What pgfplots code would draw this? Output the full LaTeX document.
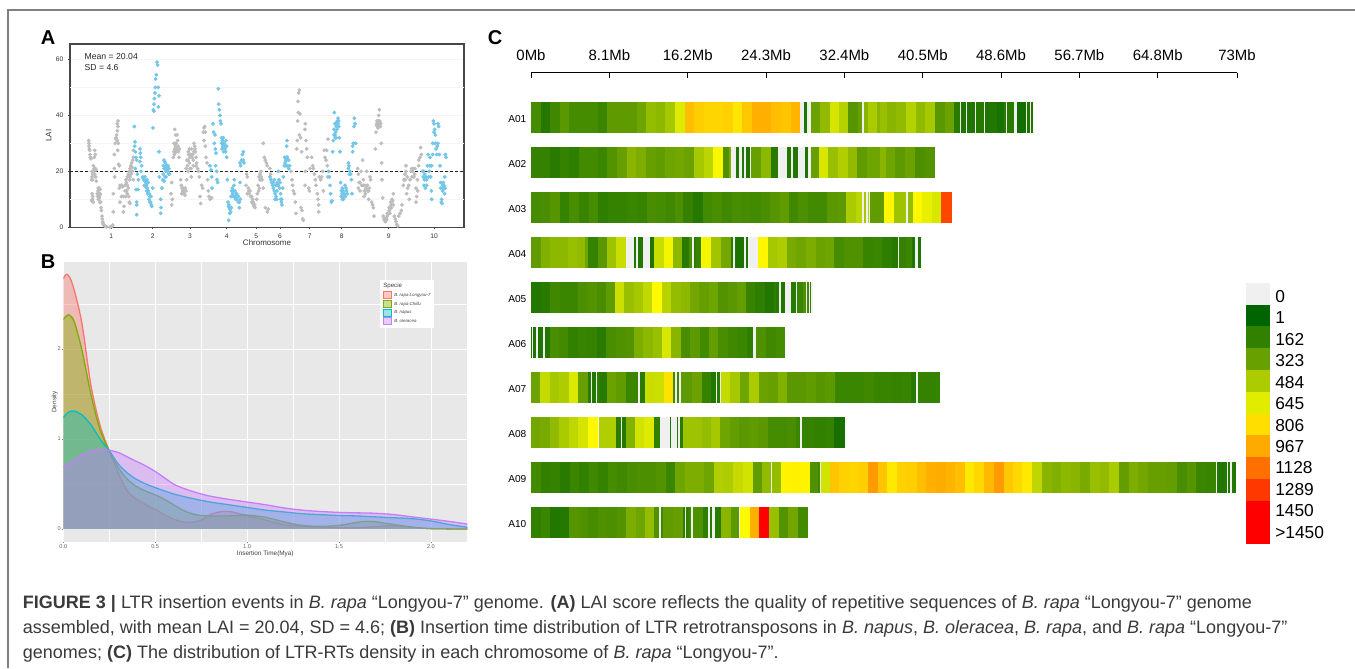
\documentclass[border=0pt]{standalone}
\usepackage{pgfplots}
\usepackage{pgfplotstable}
\usepackage{fontspec}
\setmainfont{Liberation Sans}
\pgfplotsset{compat=1.18}
\usepgfplotslibrary{patchplots}
\def\u{0.75pt}
\definecolor{gr}{HTML}{BDBDBD}
\definecolor{bl}{HTML}{72C6E8}
\definecolor{cred}{HTML}{F8766D}
\definecolor{cgrn}{HTML}{7CAE00}
\definecolor{ctea}{HTML}{00BFC4}
\definecolor{cpur}{HTML}{C77CFF}
\pgfplotsset{colormap={lai}{rgb255(0)=(240,240,240) rgb255(1)=(0,100,0) rgb255(162)=(50,128,0) rgb255(323)=(104,160,0) rgb255(484)=(172,204,0) rgb255(645)=(224,236,0) rgb255(700)=(255,250,0) rgb255(806)=(255,220,0) rgb255(967)=(255,170,0) rgb255(1128)=(255,112,0) rgb255(1289)=(255,56,0) rgb255(1450)=(255,0,0)}}

\pgfplotstableread[row sep=\\]{x v\\
93 220\\122 120\\151 200\\180 280\\208 220\\295 190\\322 295\\410 340\\438 430\\467 410\\496 470\\525 640\\554 900\\583 850\\612 830\\669 840\\698 770\\727 870\\756 950\\814 900\\843 880\\872 930\\900 0\\912 100\\920 0\\932 330\\960 420\\989 610\\1018 510\\1044 270\\1073 320\\1085 0\\1090 400\\1103 480\\1132 400\\1140 440\\1160 400\\1188 420\\1218 510\\1247 420\\1275 470\\1305 280\\1333 330\\1362 130\\1378 0\\1382 100\\1398 0\\1401 100\\1425 0\\1428 120\\1450 0\\1454 100\\1468 110\\1490 80\\1512 130\\1518 0\\1520 130\\1542 0\\1550 60\\1576 0\\1580 100\\1590 0\\1593 100\\1597 100\\
}\Aa
\pgfplotstableread[row sep=\\]{x v\\
93 170\\151 130\\180 170\\208 150\\237 210\\295 190\\322 260\\351 320\\380 400\\409 370\\438 320\\467 300\\496 340\\525 350\\553 330\\582 470\\611 530\\640 690\\668 250\\686 370\\692 0\\707 100\\716 0\\727 110\\733 0\\738 100\\750 0\\754 320\\783 410\\812 130\\835 0\\860 110\\874 0\\878 110\\895 0\\915 100\\925 0\\932 320\\956 620\\985 440\\1014 500\\1043 420\\1072 300\\1101 340\\1140 400\\1158 340\\1185 290\\1215 330\\1245 240\\1275 260\\1305 260\\
}\Ab
\pgfplotstableread[row sep=\\]{x v\\
93 220\\122 230\\151 270\\180 170\\208 230\\237 180\\266 220\\295 150\\324 170\\382 190\\411 180\\440 230\\468 220\\497 200\\526 240\\550 170\\580 120\\608 210\\637 230\\666 200\\695 230\\724 220\\753 210\\782 230\\810 270\\839 300\\866 200\\895 240\\924 210\\981 280\\1010 290\\1038 480\\1067 530\\1085 0\\1090 470\\1098 0\\1102 520\\1106 0\\1110 300\\1152 710\\1180 450\\1218 0\\1222 430\\1238 710\\1265 660\\1295 620\\1323 1250\\1355 1250\\
}\Ac
\pgfplotstableread[row sep=\\]{x v\\
93 300\\122 380\\151 410\\203 440\\232 420\\255 340\\265 170\\293 280\\320 450\\348 570\\377 0\\402 100\\407 0\\414 110\\428 0\\449 100\\462 570\\491 680\\519 410\\547 130\\567 230\\575 0\\581 150\\588 180\\604 680\\633 460\\662 350\\692 130\\698 0\\704 110\\708 90\\732 0\\737 100\\745 0\\775 710\\803 470\\832 490\\860 360\\889 340\\918 370\\947 330\\975 340\\1003 220\\1032 250\\1089 180\\1118 190\\1147 150\\1176 120\\1192 0\\1197 170\\1216 0\\1218 190\\1234 100\\1245 0\\1254 100\\1262 100\\
}\Ad
\pgfplotstableread[row sep=\\]{x v\\
93 110\\122 130\\151 200\\180 190\\233 240\\262 260\\291 230\\318 300\\345 580\\373 440\\402 470\\430 550\\457 700\\485 520\\514 430\\542 410\\570 350\\598 320\\626 340\\655 260\\683 280\\712 310\\738 180\\766 150\\795 110\\822 150\\828 130\\836 0\\844 100\\856 0\\873 130\\888 0\\892 190\\908 240\\917 0\\922 200\\927 0\\930 150\\934 0\\938 0\\
}\Ae
\pgfplotstableread[row sep=\\]{x v\\
93 100\\97 0\\100 100\\107 0\\113 100\\130 0\\136 110\\150 230\\178 210\\205 160\\233 180\\262 170\\291 130\\318 230\\347 250\\376 260\\402 370\\430 410\\458 440\\486 620\\514 400\\542 230\\571 290\\600 210\\627 310\\655 230\\684 200\\712 190\\740 150\\760 0\\767 250\\798 200\\827 220\\855 220\\
}\Af
\pgfplotstableread[row sep=\\]{x v\\
93 330\\120 560\\149 470\\178 490\\206 630\\235 320\\263 130\\272 0\\277 110\\288 0\\292 160\\297 130\\320 330\\347 300\\377 190\\414 0\\419 130\\435 570\\463 580\\491 780\\520 200\\525 0\\530 200\\538 0\\542 290\\576 330\\605 170\\634 110\\648 0\\652 130\\660 0\\663 560\\690 470\\719 340\\747 480\\776 330\\805 320\\834 380\\861 280\\919 300\\947 270\\976 290\\1004 190\\1091 200\\1120 180\\1176 170\\1205 180\\1233 130\\1248 0\\1254 170\\1320 170\\
}\Ag
\pgfplotstableread[row sep=\\]{x v\\
93 350\\120 360\\149 420\\178 480\\206 540\\235 610\\264 710\\293 0\\297 500\\348 140\\362 0\\366 120\\377 390\\405 600\\433 640\\461 160\\480 0\\510 110\\514 0\\530 130\\535 0\\540 130\\548 450\\605 430\\633 470\\661 340\\690 310\\718 280\\747 300\\775 280\\803 220\\861 230\\889 190\\901 0\\905 170\\945 160\\974 170\\1002 70\\1034 70\\
}\Ah
\pgfplotstableread[row sep=\\]{x v\\
93 210\\122 160\\151 170\\180 130\\209 190\\238 160\\267 200\\295 170\\324 220\\352 200\\381 230\\410 240\\468 260\\497 190\\525 340\\554 370\\613 340\\642 500\\670 490\\699 560\\728 600\\758 300\\786 420\\813 0\\816 430\\844 720\\873 730\\902 720\\931 250\\955 200\\960 0\\964 600\\989 880\\1018 840\\1047 830\\1076 850\\1105 1010\\1134 880\\1162 760\\1191 840\\1220 850\\1249 900\\1278 950\\1307 960\\1336 930\\1365 900\\1393 760\\1422 820\\1452 920\\1480 1010\\1510 870\\1538 820\\1566 760\\1596 540\\1625 400\\1654 380\\1682 410\\1711 400\\1740 360\\1769 440\\1798 420\\1827 480\\1856 310\\1885 370\\1914 350\\1942 320\\2000 310\\2030 230\\2059 270\\2088 190\\2117 180\\2146 0\\2150 110\\2180 0\\2184 120\\2190 0\\2194 120\\2200 0\\2202 100\\2207 100\\
}\Ai
\pgfplotstableread[row sep=\\]{x v\\
93 160\\122 190\\151 110\\180 120\\207 270\\236 250\\265 220\\294 250\\322 240\\351 260\\379 370\\408 340\\436 430\\463 250\\478 0\\484 200\\490 300\\520 320\\549 150\\555 0\\557 150\\566 200\\573 0\\578 250\\608 150\\624 0\\630 130\\636 0\\644 130\\664 400\\692 290\\716 0\\720 700\\749 950\\778 1450\\807 440\\836 260\\865 350\\893 210\\925 210\\
}\Aj
\newcommand\strip[2]{\addplot[mesh,shader=flat corner,line width=31*\u,line cap=butt,no marks,point meta=explicit]
  table[x expr=(\thisrow{x}-93)/29,y expr=-#1,meta=v]{#2};}

% density curves of panel B
\pgfplotstableread[row sep=\\]{x y\\
0 2.78\\.02 2.83\\.05 2.72\\.1 2.3\\.15 1.6\\.2 1.15\\.25 .87\\.3 .62\\.35 .42\\.4 .33\\.45 .27\\.5 .22\\.55 .16\\.6 .11\\.65 .08\\.7 .075\\.75 .1\\.8 .16\\.85 .19\\.9 .195\\.95 .175\\1 .15\\1.05 .125\\1.1 .1\\1.2 .05\\1.3 .03\\1.4 .02\\1.5 .015\\1.6 .015\\1.7 .025\\1.8 .04\\1.9 .02\\2 .005\\2.198 0\\
}\Bred
\pgfplotstableread[row sep=\\]{x y\\
0 2.33\\.03 2.38\\.06 2.3\\.1 2\\.15 1.5\\.2 1.1\\.25 .87\\.3 .68\\.35 .55\\.4 .47\\.45 .42\\.5 .38\\.55 .33\\.6 .27\\.65 .21\\.7 .17\\.75 .15\\.8 .145\\.9 .145\\1 .155\\1.1 .13\\1.2 .08\\1.3 .04\\1.4 .03\\1.5 .04\\1.6 .075\\1.65 .085\\1.7 .08\\1.8 .05\\1.9 .02\\2 .005\\2.198 0\\
}\Bgrn
\pgfplotstableread[row sep=\\]{x y\\
0 1.24\\.03 1.3\\.06 1.31\\.1 1.27\\.15 1.16\\.2 1\\.25 .87\\.3 .72\\.35 .62\\.4 .55\\.45 .5\\.5 .46\\.6 .39\\.7 .34\\.8 .3\\.9 .27\\1 .24\\1.1 .21\\1.2 .19\\1.3 .17\\1.4 .16\\1.5 .15\\1.6 .145\\1.7 .135\\1.8 .125\\1.9 .115\\2 .09\\2.1 .05\\2.198 .02\\
}\Btea
\pgfplotstableread[row sep=\\]{x y\\
0 .69\\.05 .75\\.1 .82\\.15 .865\\.2 .88\\.25 .875\\.3 .85\\.35 .8\\.4 .75\\.45 .7\\.5 .64\\.55 .57\\.6 .5\\.65 .455\\.7 .42\\.75 .39\\.8 .365\\.9 .33\\1 .3\\1.1 .27\\1.2 .235\\1.3 .21\\1.4 .195\\1.5 .185\\1.6 .18\\1.7 .175\\1.8 .16\\1.9 .135\\2 .11\\2.1 .085\\2.198 .055\\
}\Bpur
\newcommand\dens[2]{\addplot[draw=none,fill=#1,fill opacity=.4,smooth] table{#2} \closedcycle;
 \addplot[#1,line width=1.3*\u,smooth,no marks] table{#2};}

\begin{document}
\begin{tikzpicture}
\path[use as bounding box] (0,0) rectangle (1355*\u,-668*\u);

% Panel A
\begin{axis}[at={(70*\u,-227.3*\u)},anchor=south west,scale only axis,width=394*\u,height=183.3*\u,
 xmin=120,xmax=1302,ymin=0,ymax=65.5,
 xtick={244,368,480,590,679,750,839,935,1076,1212},xticklabels={1,2,3,4,5,6,7,8,9,10},
 ytick={0,20,40,60},
 grid=none,ymajorgrids,
 extra y ticks={10,30,50},extra y tick labels={},extra y tick style={major tick length=0pt},
 y grid style={black!4,line width=0.6pt},
 axis line style={black!72,line width=1.1*\u},
 tick style={black!70,line width=0.6pt},major tick length=2*\u,
 tick align=outside,xtick pos=bottom,ytick pos=left,
 tick label style={font=\fontsize{5}{6}\selectfont,text=black!80},
 /pgf/number format/assume math mode=true,
 xlabel={Chromosome},ylabel={LAI},
 label style={font=\fontsize{6}{7}\selectfont,text=black!80},
 xlabel style={at={(axis description cs:0.5,0)},anchor=north,yshift=-8*\u},
 ylabel style={at={(axis description cs:0,0.5)},anchor=south,yshift=14*\u},
]
\addplot[only marks,mark=*,mark size=1.65*\u,color=gr,mark options={draw=none,fill=gr}] coordinates {
(176,31)(177,30)(177,29)(178,28)(179,27.5)(180,26)(181,25)(183,24.5)(194,27.5)(196,26)(193,25)(190,22)(192,21)(195,21)(198,20.5)(186,20)(188,19)(185,17)(188,17)(197,18)(199,16.5)(186,12)(188,11)(187,10)(185,9.5)(190,9)(205,14)(208,14)(210,13.5)(204,13)(207,12)(210,11.5)(203,11)(208,10.5)(205,10)(212,9)(213,7)(214,6)(216,4)(217,3)(218,2)(219,1.5)(220,1)(222,.7)(224,.5)(226,.3)(230,.2)(248,.8)(245,.3)(240,.1)
(250,5.5)(250,12)(253,21)(253,26)(256,30)(258,32)(260,33)(262,34.5)(264,36)(262,37)(264,38)(258,31.5)(262,31)(265,30)(263,27.5)(266,22.5)(268,22)(254,18)
(270,15)(275,15)(268,14)(278,14.5)(274,11)(280,11)(270,9)(282,7.5)(280,5.5)(288,17)(285,15)(290,13)(292,12)(287,11)(296,11)(298,9)(300,8.5)(292,18)(295,19)(298,20)(300,21)(302,22)(305,23)(308,24)(310,25)(310,27.5)(306,21.5)(303,19)(310,17)
(425,16)(423,12)(427,10)(425,8)(430,25)(432,27)(434,28)(436,29)(438,30)(434,35)(437,33)(441,33)(443,31)(440,28)(445,27)(447,25)(452,17)(454,15)(456,14)(458,13)(460,12.5)(462,12)(465,11.5)(468,13)(470,17)(472,22)(474,24)(476,26)(478,23)(480,25)(483,21)(485,28)(488,26)(490,24)(492,30)(494,29)(496,27)(498,25)(500,23)(503,21)(505,20)(508,18)(510,11)(512,8.5)(515,15)(518,14)(520,34)(522,35.5)(524,36)(526,34)(522,31)(526,29)(528,25)(531,23)(533,17)(535,13)(537,11)(540,10)(545,10.5)
(648,15)(650,19)(652,18)(655,14)(657,12)(660,13)(662,11)(665,9)(668,8.5)(670,9)(672,8)(675,7)(680,10)(684,15)(687,18)(690,19)(693,20)(696,17)(700,30)(703,25)(706,24)(709,23)(712,22)(700,14)(706,7)(712,5.5)(715,6.5)(720,21)(722,19)
(783,20)(786,17)(788,15)(790,13)(793,12)(796,9)(798,5)(800,28)(802,31)(803,38)(805,41)(804,45)(806,48)(808,49)(810,40.5)(808,33)(812,32)(815,27)(813,7)(816,6)(818,3)(820,2.5)(825,35)(826,37)(828,31)(830,28)(832,25)(826,20)(825,15)(836,14)(838,13)(840,21)(845,25)(848,22)(850,21)(853,19)(856,17)(858,15)(862,12)(864,10)(866,8)(866,5.5)(868,18)(872,17)(875,18)(878,20)(880,13)(883,27.5)(885,25)(888,24)(890,27.5)(892,22)(894,31.5)(893,18)
(983,21)(985,19)(987,16)(990,13)(993,20)(995,15)(998,24)(1000,15)(1003,13)(1006,12)(1010,20)(1013,13)(1016,10)(1020,18)(1022,17)(1025,9)(1028,8)(1030,7)(1032,4)(1036,28)(1038,34)(1040,37)(1042,36)(1044,38)(1046,40)(1048,42)(1050,37.5)(1052,37)(1054,30)(1056,17)(1058,10.5)(1055,23)(1060,4)(1062,3)(1064,2.5)(1066,2)(1070,3)(1072,4)(1075,5)(1078,6)(1080,7)(1083,8)(1085,9)(1088,9.5)(1090,12)(1093,4)(1096,3)(1098,2)(1100,1)(1103,.5)(1106,4)(1110,5)(1114,6)(1116,8)(1120,15)(1122,17)(1125,19)(1128,22)(1130,12)(1133,14)(1136,15)(1138,10)(1143,20)(1146,18)(1150,21)(1154,19)(1158,9)(1160,11)(1163,13)(1166,22)(1170,25)(1172,28.5)(1174,26)
(1040,36.5)(1043,37)(1045,36)(1047,37)(1049,38)(1051,36)(1041,38)(1044,35.5)(1064,3)(1067,3)(1069,2.5)(1072,5)(1077,7)(1082,9)(1086,10)(1090,8)(1084,7)(1080,5)(210,12)(206,11)(202,12)(209,9)(196,21)(194,19)(191,20)(186,18)(300,18)(304,20)(307,20)(299,17)(292,15)(295,14)(289,16)(285,13)(468,21)(471,24)(475,27)(478,28)(482,26)(486,25)(490,22)(495,28)(492,27)(498,22)(474,20)(480,21)(484,18)(436,27)(440,27)(444,29)(432,30)(448,28)(455,12)(459,14)(463,13)(466,14)(433,26)(652,12)(656,13)(665,11)(668,10)(671,7.5)(674,8)(690,17)(694,18)(686,13)(688,14)(682,12)(1000,17)(1005,15)(1008,14)(1012,15)(1016,13)(1018,14)(1002,11)(990,16)(985,14)(1125,17)(1128,20)(1132,18)(1140,17)(1145,21)(1148,20)(1152,18)(1155,21)(1158,14)(1162,17)(1166,24)
};
\addplot[only marks,mark=*,mark size=1.65*\u,color=bl,mark options={draw=none,fill=bl}] coordinates {
(313,36)(315,30.5)(314,29)(316,27)(318,25)(320,24)(316,21)(322,19)(325,17)(318,13.5)(324,13.5)(320,9)(320,8)(320,4.5)(330,28)(331,26.5)(332,25)(330,23.5)(335,22)(333,20)(338,18)(340,17.5)(342,17)(345,16.5)(348,16)(350,15.5)(343,15)(347,14.5)(352,14)(355,13)(358,12)(360,11)(362,9)(364,8)(365,7.5)(368,14)(370,42)(372,44)(375,48)(373,46)(376,50)(377,53)(379,54.5)(381,59)(383,58)(385,50)(387,47)(385,43)(372,41.5)(369,35.5)(387,27)(388,18)(392,10)(393,7)(392,5)(396,14)(398,17)(400,22)(402,24)(404,23.5)(406,23)(408,22)(410,21)(412,20.5)(414,20)(416,19)(418,19)(405,18)(408,18)(403,16.5)
(540,22)(543,20.5)(545,18)(546,14)(549,37)(551,34)(553,30)(556,28)(558,26.5)(555,33)(557,22)(560,20)(561,17)(563,16)(565,49.5)(566,44)(568,42)(570,40)(571,38)(573,37)(575,32)(577,31)(580,30)(582,29)(585,28)(587,27)(590,25)(592,17)(594,9)(596,7.5)(598,7)(600,6.5)(602,5.5)(596,2.5)(605,13)(608,12)(610,11)(612,15)(615,13)(618,12)(620,10)(622,11)(625,9)(628,7)(630,23)(632,22)(635,24)(637,26)(640,27)(640,24)(642,23)(613,17)(630,16)
(720,18)(723,17)(725,16)(728,15)(730,14)(733,13)(735,10)(738,11)(740,15)(742,16)(745,20)(747,17)(750,16)(752,10)(754,9)(756,8)(758,14)(760,18)(763,22)(765,23)(767,24)(769,25)(770,29)(771,31)(773,22)(776,24)(779,22)
(896,20)(898,18)(900,15)(902,12)(904,9)(906,9.5)(908,27)(910,31)(912,35)(913,41)(915,33)(917,34)(918,37)(920,37.5)(922,38)(924,39)(926,36)(928,32)(930,27)(932,16)(934,13)(936,12)(938,11)(940,10)(945,15)(948,14)(950,13)(952,12)(955,23)(957,22)(960,20)(962,19)(964,17)(966,12)(968,27)(970,30)(972,36)(973,39)(975,37)(977,30)(968,29)
(1178,20)(1180,18)(1183,17)(1186,14)(1190,15)(1192,22)(1194,26)(1198,20)(1202,18)(1204,13)(1205,10)(1208,30)(1210,38)(1212,37)(1214,35)(1216,33)(1218,28)(1222,29)(1224,37)(1226,36)(1224,30)(1228,26)(1230,22)(1232,14)(1234,9)(1236,8.5)(1238,13)(1240,16)(1242,15)(1244,12)(1246,26)(1248,25)(1244,18)
(575,30)(578,29)(580,32)(583,30)(586,29)(588,31)(581,27)(576,28)(590,29)(603,11)(607,14)(610,13)(614,11)(617,10)(620,12)(625,11)(628,9)(631,10)(604,7)(597,8)(599,5)(345,18)(348,15)(351,17)(354,16)(350,13)(353,12)(357,10)(360,9)(363,11)(402,21)(405,21)(408,20)(411,22)(414,22)(417,21)(400,19)(915,37)(919,36)(921,35)(924,37)(926,38)(916,32)(912,33)(918,32)(937,14)(940,13)(943,12)(946,11)(934,11)(937,10)(955,21)(958,19)(730,16)(733,17)(737,15)(741,13)(745,15)(749,14)(752,12)(755,10)(735,12)(740,10)(764,25)(768,22)(772,25)(776,21)(770,24)(1180,20)(1184,19)(1188,18)(1190,17)(1182,15)(1196,18)(1200,22)(1235,10)(1238,15)(1241,14)(1232,16)(1245,14)(1212,34)(1216,30)(1220,26)(1208,26)(1205,22)(1200,25)
};
\addplot[black!85,line width=1.3*\u,dash pattern=on 3*\u off 2*\u] coordinates {(120,20.04)(1302,20.04)};
\node[anchor=north west,align=left,font=\fontsize{6.5}{8}\selectfont,text=black!85,inner sep=0pt] at (axis cs:163,62.2) {Mean = 20.04\\SD = 4.6};
\end{axis}

% Panel B
\begin{axis}[at={(63.3*\u,-541.7*\u)},anchor=south west,scale only axis,width=404*\u,height=279.4*\u,
 xmin=0,xmax=2.198,ymin=-0.1407,ymax=2.963,
 axis background/.style={fill=black!9},
 axis line style={draw=none},
 xtick={0,0.5,1,1.5,2},ytick={0,1,2},
 xticklabels={0.0,0.5,1.0,1.5,2.0},
 minor xtick={0.25,0.75,1.25,1.75},minor ytick={0.5,1.5,2.5},
 grid=both,major grid style={white,line width=0.8*\u},minor grid style={white,line width=0.4*\u},
 tick style={black!50,line width=0.4pt},major tick length=1.5*\u,minor tick length=0pt,
 tick align=outside,xtick pos=bottom,ytick pos=left,
 tick label style={font=\fontsize{4.2}{5}\selectfont,text=black!60,inner sep=0.6pt},
 /pgf/number format/assume math mode=true,
 xlabel={Insertion Time(Mya)},ylabel={Density},
 label style={font=\fontsize{4.8}{6}\selectfont,text=black!75},
 xlabel style={at={(axis description cs:0.5,0)},anchor=north,yshift=-4*\u},
 ylabel style={at={(axis description cs:0,0.5)},anchor=south,yshift=1*\u},
]
\dens{cred}{\Bred}
\dens{cgrn}{\Bgrn}
\dens{ctea}{\Btea}
\dens{cpur}{\Bpur}
\end{axis}
% legend of B
\fill[white] (380*\u,-280*\u) rectangle (434*\u,-328*\u);
\node[anchor=west,font=\fontsize{4.6}{5}\selectfont,text=black!75,inner sep=0pt] at (383*\u,-285.5*\u) {Specie};
\foreach \yy/\cc/\lab in {295/cred/B. rapa Longyou-7,304/cgrn/B. rapa Chiifu,312.5/ctea/B. napus,321/cpur/B. oleracea}{
  \fill[\cc,fill opacity=.4] (383.5*\u,-\yy*\u+3.5*\u) rectangle (391*\u,-\yy*\u-3.5*\u);
  \draw[\cc,line width=1*\u] (383.5*\u,-\yy*\u+3.5*\u) rectangle (391*\u,-\yy*\u-3.5*\u);
  \node[anchor=west,font=\fontsize{3.3}{5}\selectfont\itshape,text=black!75,inner sep=0pt] at (394*\u,-\yy*\u) {\lab};
}

% Panel C
\begin{axis}[at={(531*\u,-550*\u)},anchor=south west,scale only axis,width=706*\u,height=477.3*\u,
 xmin=0,xmax=73,ymin=-10.6,ymax=0,
 axis x line=top,axis y line=left,
 y axis line style={draw=none},
 x axis line style={-,black,line width=1*\u},
 xtick={0,8.1,16.2,24.3,32.4,40.5,48.6,56.7,64.8,73},
 xticklabels={0Mb,8.1Mb,16.2Mb,24.3Mb,32.4Mb,40.5Mb,48.6Mb,56.7Mb,64.8Mb,73Mb},
 ytick={-1,-2,-3,-4,-5,-6,-7,-8,-9,-10},
 yticklabels={A01,A02,A03,A04,A05,A06,A07,A08,A09,A10},
 tick align=inside,
 xtick style={black,line width=1*\u},
 ytick style={draw=none},
 x tick label style={font=\fontsize{11.2}{13}\selectfont,yshift=7*\u},
 y tick label style={font=\fontsize{7.6}{9}\selectfont,yshift=-1*\u},
 major tick length=5*\u,
 colormap name=lai,point meta min=0,point meta max=1450,
 clip=false,
]
\strip{1}{\Aa}
\strip{2}{\Ab}
\strip{3}{\Ac}
\strip{4}{\Ad}
\strip{5}{\Ae}
\strip{6}{\Af}
\strip{7}{\Ag}
\strip{8}{\Ah}
\strip{9}{\Ai}
\strip{10}{\Aj}
\end{axis}

% Colour key of C
\begin{axis}[at={(1245.7*\u,-544.3*\u)},anchor=south west,scale only axis,width=24.3*\u,height=261.6*\u,
 xmin=0,xmax=1,ymin=0,ymax=12,
 axis line style={draw=none},
 xtick=\empty,
 ytick={0.54,1.53,2.51,3.5,4.48,5.47,6.45,7.44,8.42,9.41,10.39,11.38},
 yticklabels={>1450,1450,1289,1128,967,806,645,484,323,162,1,0},
 ytick pos=right,yticklabel pos=right,
 major tick length=0pt,
 y tick label style={font=\fontsize{13}{14}\selectfont,inner xsep=5*\u,anchor=west},
 clip=true,
]
\addplot[draw=none,fill={rgb,255:red,255;green,0;blue,0}] coordinates {(0,0)(1,0)(1,1)(0,1)} --cycle;
\addplot[draw=none,fill={rgb,255:red,255;green,0;blue,0}] coordinates {(0,1)(1,1)(1,2)(0,2)} --cycle;
\addplot[draw=none,fill={rgb,255:red,255;green,56;blue,0}] coordinates {(0,2)(1,2)(1,3)(0,3)} --cycle;
\addplot[draw=none,fill={rgb,255:red,255;green,112;blue,0}] coordinates {(0,3)(1,3)(1,4)(0,4)} --cycle;
\addplot[draw=none,fill={rgb,255:red,255;green,170;blue,0}] coordinates {(0,4)(1,4)(1,5)(0,5)} --cycle;
\addplot[draw=none,fill={rgb,255:red,255;green,222;blue,0}] coordinates {(0,5)(1,5)(1,6)(0,6)} --cycle;
\addplot[draw=none,fill={rgb,255:red,224;green,236;blue,0}] coordinates {(0,6)(1,6)(1,7)(0,7)} --cycle;
\addplot[draw=none,fill={rgb,255:red,172;green,204;blue,0}] coordinates {(0,7)(1,7)(1,8)(0,8)} --cycle;
\addplot[draw=none,fill={rgb,255:red,104;green,160;blue,0}] coordinates {(0,8)(1,8)(1,9)(0,9)} --cycle;
\addplot[draw=none,fill={rgb,255:red,50;green,128;blue,0}] coordinates {(0,9)(1,9)(1,10)(0,10)} --cycle;
\addplot[draw=none,fill={rgb,255:red,0;green,100;blue,0}] coordinates {(0,10)(1,10)(1,11)(0,11)} --cycle;
\addplot[draw=none,fill={rgb,255:red,240;green,240;blue,240}] coordinates {(0,11)(1,11)(1,12)(0,12)} --cycle;
\end{axis}

% panel letters
\node[font=\fontsize{15}{16}\selectfont\bfseries,inner sep=0pt] at (48*\u,-38*\u) {A};
\node[font=\fontsize{15}{16}\selectfont\bfseries,inner sep=0pt] at (48*\u,-262*\u) {B};
\node[font=\fontsize{15}{16}\selectfont\bfseries,inner sep=0pt] at (495*\u,-38*\u) {C};

% caption
\definecolor{capc}{HTML}{3A3A3A}
\node[anchor=base west,font=\fontsize{13.5}{15}\selectfont,text=capc,inner sep=0pt] at (22.7*\u,-608*\u) {\textbf{FIGURE 3 |} LTR insertion events in \textit{B. rapa} “Longyou-7” genome. \textbf{(A)} LAI score reflects the quality of repetitive sequences of \textit{B. rapa} “Longyou-7” genome};
\node[anchor=base west,font=\fontsize{13.5}{15}\selectfont,text=capc,inner sep=0pt] at (22.7*\u,-633*\u) {assembled, with mean LAI = 20.04, SD = 4.6; \textbf{(B)} Insertion time distribution of LTR retrotransposons in \textit{B. napus}, \textit{B. oleracea}, \textit{B. rapa}, and \textit{B. rapa} “Longyou-7”};
\node[anchor=base west,font=\fontsize{13.5}{15}\selectfont,text=capc,inner sep=0pt] at (22.7*\u,-658*\u) {genomes; \textbf{(C)} The distribution of LTR-RTs density in each chromosome of \textit{B. rapa} “Longyou-7”.};
\draw[black!50,line width=1.4*\u] (8*\u,-668*\u) -- (8*\u,-10*\u) -- (1355*\u,-10*\u);
\end{tikzpicture}
\end{document}
